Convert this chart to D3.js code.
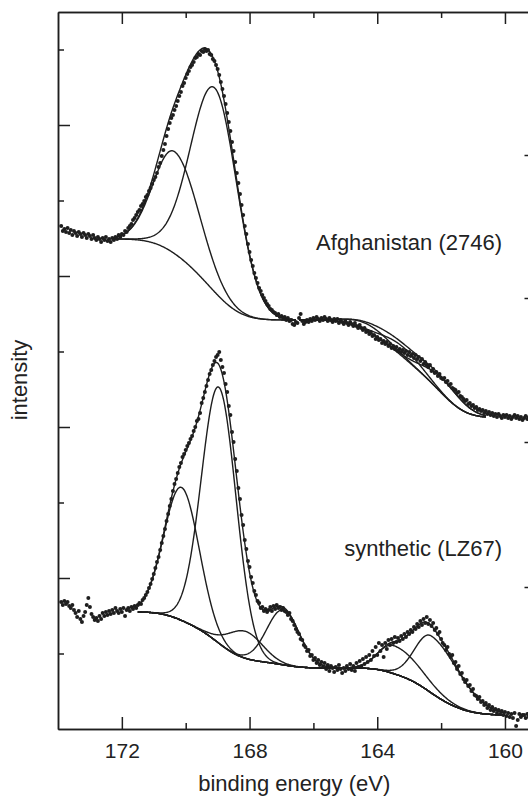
<!DOCTYPE html>
<html>
<head>
<meta charset="utf-8">
<script src="https://cdn.jsdelivr.net/npm/d3@7"></script>
<style>
  html, body { margin: 0; padding: 0; background: #fff; }
  svg { display: block; }
  text { font-family: "Liberation Sans", Arial, Helvetica, sans-serif; fill: #222; }
</style>
</head>
<body>
<svg id="chart" width="528" height="798"></svg>
<script>
// S 2p photoelectron spectra of two samples: measured channels (dots),
// fitted peak components and envelope (lines) on Shirley-type backgrounds.

// ---- measurement grid (binding energy, eV) ----
const energyStart = 173.9;
const energyStep = 0.05;

// ---- measured intensities (arb. units), one value per channel from 173.90 eV down ----
const afghanistanCounts = [
  503,498,500,497,501,496,499,494,498,496,493,497,495,492,496,494,491,495,493,490,
  494,491,489,492,490,487,491,489,492,488,490,487,491,489,492,490,494,492,495,494,
  498,497,501,503,505,509,511,514,517,519,523,525,528,532,534,538,541,545,549,552,
  556,562,566,573,579,585,593,600,606,611,614,619,623,628,633,637,643,646,651,655,
  658,662,664,667,671,672,675,674,678,677,680,678,679,675,674,670,668,664,660,654,
  647,640,633,625,616,607,598,587,578,567,556,546,535,524,514,503,495,485,477,469,
  463,456,451,446,441,438,434,431,428,425,423,420,419,417,416,414,415,412,413,411,
  412,409,411,408,409,405,404,407,406,411,415,408,405,407,409,407,410,408,411,409,
  412,410,408,411,409,412,410,408,411,409,407,410,408,410,406,409,407,405,408,406,
  404,407,405,403,406,403,401,404,401,399,401,397,398,395,397,393,394,390,392,389,
  390,386,388,385,387,383,385,381,383,380,382,378,380,377,379,376,378,374,377,373,
  375,371,374,370,372,368,370,365,367,364,362,364,358,360,356,357,353,355,351,350,
  351,347,348,344,345,341,340,339,336,337,333,332,330,328,329,325,326,323,324,321,
  322,319,320,318,319,316,318,315,317,314,316,313,315,312,315,313,311,314,312,314,
  311,313,310,312,314,311,313,310,312,309,311,313,310,312
];

const syntheticCounts = [
  127,124,128,125,127,123,121,124,119,116,112,118,110,107,113,117,124,131,122,115,
  112,109,111,108,113,110,116,113,117,114,118,115,119,116,121,118,116,120,117,121,
  113,119,121,118,122,120,123,121,124,126,125,129,131,134,137,141,145,150,155,161,
  167,172,179,186,193,200,208,215,223,230,238,245,250,256,262,266,272,275,279,283,
  286,290,293,298,302,308,310,316,326,331,337,343,349,355,359,364,368,372,374,377,
  369,362,356,345,337,323,314,297,287,270,258,241,230,214,204,189,180,168,162,152,
  146,138,134,128,126,121,122,118,120,117,119,122,118,123,120,124,121,122,119,121,
  118,117,114,116,110,108,104,100,97,95,90,89,84,82,78,79,73,74,69,71,
  66,69,64,67,62,66,60,64,58,63,61,57,62,59,64,60,56,61,58,63,
  60,65,59,63,58,66,62,68,63,70,65,72,67,74,69,78,73,82,74,86,
  78,84,72,86,80,89,84,90,86,92,87,91,88,93,90,95,92,97,95,99,
  97,102,100,105,102,108,104,110,106,112,105,109,103,106,99,101,95,97,90,86,
  84,79,82,75,72,74,66,67,60,63,55,56,50,47,49,43,44,38,40,34,
  33,30,32,27,28,24,26,21,24,19,22,18,20,16,19,15,18,14,17,13,
  16,12,15,11,16,3,9,15,12,14,14,11,15,12
];

// ---- fitted peak components (centre eV, height, half widths on high/low BE side) ----
const afghanistanSulfatePeaks = [
  { center: 170.35, height: 102, hwHigh: 0.76, hwLow: 0.90 },
  { center: 169.08, height: 204, hwHigh: 0.88, hwLow: 0.82 }
];
const afghanistanSulfidePeaks = [
  { center: 164.25, height: 7,  hwHigh: 0.75, hwLow: 0.75 },
  { center: 163.20, height: 10, hwHigh: 0.70, hwLow: 0.70 },
  { center: 161.95, height: 15, hwHigh: 0.72, hwLow: 0.72 }
];
const syntheticSulfatePeaks = [
  { center: 170.13, height: 133, hwHigh: 0.65, hwLow: 0.65 },
  { center: 168.96, height: 256, hwHigh: 0.64, hwLow: 0.64 },
  { center: 168.13, height: 27,  hwHigh: 0.64, hwLow: 0.64 },
  { center: 166.95, height: 55,  hwHigh: 0.60, hwLow: 0.60 }
];
const syntheticSulfidePeaks = [
  { center: 163.50, height: 28, hwHigh: 0.55, hwLow: 1.00 },
  { center: 162.30, height: 57, hwHigh: 0.60, hwLow: 1.05 }
];

// ---- fit windows: energy range, background level at the low-BE end, background steps ----
const afghanistanFits = [
  { from: 172.3, to: 166.55, base: 409, groups: [{ step: 81, peaks: afghanistanSulfatePeaks }] },
  { from: 166.45, to: 160.6, base: 312, groups: [{ step: 97, peaks: afghanistanSulfidePeaks }] }
];
const syntheticFits = [
  { from: 171.5, to: 160.0, base: 14, groups: [
      { step: 56, peaks: syntheticSulfatePeaks },
      { step: 47, peaks: syntheticSulfidePeaks } ] }
];

// ---- sample labels ----
const sampleLabels = ["Afghanistan (2746)", "synthetic (LZ67)"];

// ---- axis ticks ----
const xTicksMajor = [172, 168, 164, 160];
const xTicksMinor = [170, 166, 162];
const yTicksMajor = [151, 302, 453, 604];
const yTicksMinor = [75.5, 226.5, 377.5, 528.5, 679.5];
const yTicksRight = [142, 287, 431, 574];

// ---------------------------------------------------------------------------
const svg = d3.select("#chart");
const ink = "#1e1e1e";

const x = d3.scaleLinear().domain([174, 159.2]).range([58, 530.5]);
const y = d3.scaleLinear().domain([0, 717]).range([729, 12]);

function peakValue(p, e) {
  const d = e - p.center;
  const w = d >= 0 ? p.hwHigh : p.hwLow;
  return p.height * Math.exp(-Math.LN2 * (d / w) * (d / w));
}

// Shirley-type background: each group's step follows its cumulative peak area
function buildFit(fit) {
  const n = Math.round((fit.from - fit.to) / 0.02);
  const grid = d3.range(n + 1).map(i => fit.from - i * (fit.from - fit.to) / n);
  const steps = fit.groups.map(g => {
    const vals = grid.map(e => d3.sum(g.peaks, p => peakValue(p, e)));
    const cum = new Array(grid.length).fill(0);
    for (let i = grid.length - 2; i >= 0; i--) cum[i] = cum[i + 1] + (vals[i] + vals[i + 1]) / 2;
    return cum.map(c => g.step * c / cum[0]);
  });
  const bg = grid.map((e, i) => fit.base + d3.sum(steps, s => s[i]));
  const peaks = fit.groups.flatMap(g => g.peaks);
  return {
    background: grid.map((e, i) => [e, bg[i]]),
    components: peaks.map(p => grid.map((e, i) => [e, bg[i] + peakValue(p, e)])),
    envelope: grid.map((e, i) => [e, bg[i] + d3.sum(peaks, p => peakValue(p, e))])
  };
}

const line = d3.line().x(d => x(d[0])).y(d => y(d[1]));
const plot = svg.append("g");

function drawSpectrum(counts, fits) {
  fits.forEach(fit => {
    const f = buildFit(fit);
    const curves = [f.background, ...f.components, f.envelope];
    plot.append("g").selectAll("path").data(curves).join("path")
      .attr("d", line)
      .attr("fill", "none")
      .attr("stroke", ink)
      .attr("stroke-width", 1.4);
  });
  const pts = counts.map((c, i) => [energyStart - i * energyStep, c]);
  plot.append("g").selectAll("circle").data(pts).join("circle")
    .attr("cx", d => x(d[0]))
    .attr("cy", d => y(d[1]))
    .attr("r", 2)
    .attr("fill", ink);
}

drawSpectrum(afghanistanCounts, afghanistanFits);
drawSpectrum(syntheticCounts, syntheticFits);

// ---- axes ----
function styleAxis(g) {
  g.selectAll("path,line").attr("stroke", ink).attr("stroke-width", 1.5);
  g.attr("font-family", null).attr("font-size", null);
}
const [x0, x1] = x.range();
const [yb, yt] = y.range();

svg.append("g").attr("transform", `translate(0,${yb})`)
  .call(d3.axisBottom(x).tickValues(xTicksMajor).tickSize(-12).tickSizeOuter(0).tickPadding(14).tickFormat(d3.format("d")))
  .call(styleAxis)
  .call(g => g.selectAll("text").attr("font-size", 21).attr("fill", ink).attr("dy", "0.72em"));
svg.append("g").attr("transform", `translate(0,${yb})`)
  .call(d3.axisBottom(x).tickValues(xTicksMinor).tickSize(-6).tickSizeOuter(0).tickFormat(""))
  .call(styleAxis);

svg.append("g").attr("transform", `translate(0,${yt})`)
  .call(d3.axisTop(x).tickValues(xTicksMajor).tickSize(-12).tickSizeOuter(0).tickFormat(""))
  .call(styleAxis);
svg.append("g").attr("transform", `translate(0,${yt})`)
  .call(d3.axisTop(x).tickValues(xTicksMinor).tickSize(-6).tickSizeOuter(0).tickFormat(""))
  .call(styleAxis);

svg.append("g").attr("transform", `translate(${x0},0)`)
  .call(d3.axisLeft(y).tickValues(yTicksMajor).tickSize(-12).tickSizeOuter(0).tickFormat(""))
  .call(styleAxis);
svg.append("g").attr("transform", `translate(${x0},0)`)
  .call(d3.axisLeft(y).tickValues(yTicksMinor).tickSize(-6).tickSizeOuter(0).tickFormat(""))
  .call(styleAxis);

svg.append("g").attr("transform", `translate(${x1},0)`)
  .call(d3.axisRight(y).tickValues(yTicksRight).tickSize(-6).tickSizeOuter(0).tickFormat(""))
  .call(styleAxis);

// ---- titles and sample labels ----
svg.append("text")
  .attr("x", (x0 + x1) / 2).attr("y", 791)
  .attr("text-anchor", "middle").attr("font-size", 22)
  .text("binding energy (eV)");

svg.append("text")
  .attr("transform", "translate(27,380) rotate(-90)")
  .attr("text-anchor", "middle").attr("font-size", 22)
  .text("intensity");

svg.append("text")
  .attr("x", 502).attr("y", 250)
  .attr("text-anchor", "end").attr("font-size", 22)
  .text(sampleLabels[0]);

svg.append("text")
  .attr("x", 502).attr("y", 556)
  .attr("text-anchor", "end").attr("font-size", 22)
  .text(sampleLabels[1]);
</script>
</body>
</html>
